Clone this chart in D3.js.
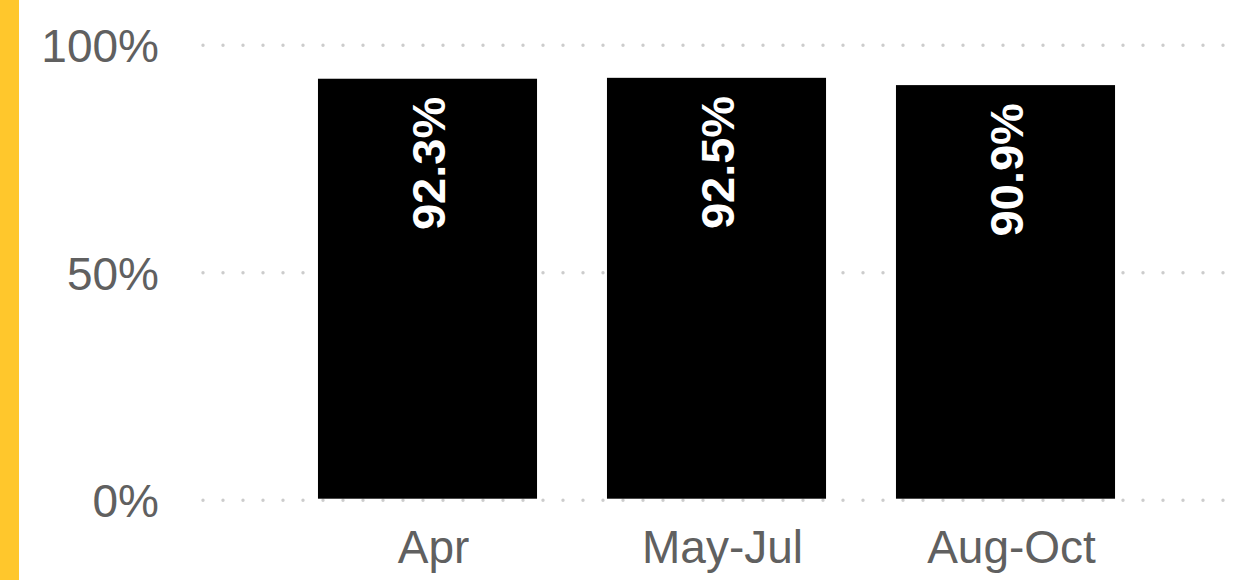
<!DOCTYPE html>
<html>
<head>
<meta charset="utf-8">
<script src="https://cdn.jsdelivr.net/npm/d3@7"></script>
<style>
  html, body { margin: 0; padding: 0; background: #fff; }
  svg { display: block; }
</style>
</head>
<body>
<svg id="chart" width="1239" height="580"></svg>
<script>
const categories = ["Apr", "May-Jul", "Aug-Oct"];
const values = [92.3, 92.5, 90.9];
const yTicks = [0, 50, 100];
const tickLabels = ["0%", "50%", "100%"];

const svg = d3.select("#chart");
const W = 1239, H = 580;

// yellow accent stripe
svg.append("rect").attr("x", 0).attr("y", 0).attr("width", 19).attr("height", H).attr("fill", "#FFC72C");

const x = d3.scaleBand().domain(categories).range([283, 1150]).paddingInner(0.242).paddingOuter(0.121);
const y = d3.scaleLinear().domain([0, 100]).range([498.7, 43.7]);

// gridlines (dotted)
const grid = svg.append("g");
yTicks.forEach(t => {
  grid.append("line")
    .attr("x1", 203).attr("x2", 1226)
    .attr("y1", y(t) + 1.6).attr("y2", y(t) + 1.6)
    .attr("stroke", "#cccccc")
    .attr("stroke-width", 3.4)
    .attr("stroke-linecap", "round")
    .attr("stroke-dasharray", "0,20");
});

// y axis labels
const yAxis = d3.axisLeft(y).tickValues(yTicks).tickSize(0).tickPadding(0)
  .tickFormat((d, i) => tickLabels[i]);
const ya = svg.append("g").attr("transform", "translate(159,0)").call(yAxis);
ya.select(".domain").remove();
ya.selectAll("text")
  .attr("font-family", "'Liberation Sans', Arial, sans-serif")
  .attr("font-size", 46)
  .attr("fill", "#606060")
  .attr("dy", "0.36em")
  .attr("y", 1.5);

// bars
svg.append("g").selectAll("rect").data(values).join("rect")
  .attr("x", (d, i) => x(categories[i]))
  .attr("y", d => y(d))
  .attr("width", x.bandwidth())
  .attr("height", d => y(0) - y(d))
  .attr("fill", "#000000");

// data labels
svg.append("g").selectAll("text").data(values).join("text")
  .attr("transform", (d, i) => `translate(${x(categories[i]) + x.bandwidth() / 2 + 17},${y(d) + 18}) rotate(-90)`)
  .attr("text-anchor", "end")
  .attr("font-family", "'Liberation Sans', Arial, sans-serif")
  .attr("font-weight", "bold")
  .attr("font-size", 47)
  .attr("fill", "#ffffff")
  .text(d => d.toFixed(1) + "%");

// x axis labels
const xAxis = d3.axisBottom(x).tickSize(0).tickPadding(0);
const xa = svg.append("g").attr("transform", "translate(6,0)").call(xAxis);
xa.select(".domain").remove();
xa.selectAll("text")
  .attr("font-family", "'Liberation Sans', Arial, sans-serif")
  .attr("font-size", 46)
  .attr("fill", "#606060")
  .attr("y", 562.7)
  .attr("dy", 0);
</script>
</body>
</html>
